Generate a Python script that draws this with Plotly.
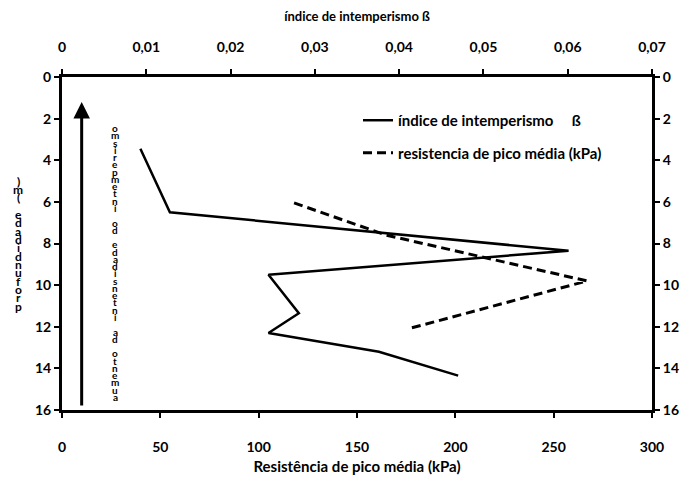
import plotly.graph_objects as go

# Weathering index (top axis) against depth
beta_index = [0.0093, 0.0128, 0.0601, 0.0245, 0.0281, 0.0245, 0.0376, 0.0470]
beta_depth = [3.45, 6.5, 8.35, 9.5, 11.35, 12.3, 13.2, 14.35]

# Mean peak strength (bottom axis) against depth
peak_strength = [118, 165, 267, 176]
strength_depth = [6.05, 7.6, 9.8, 12.1]

# Tick labels
strength_ticks = [0, 50, 100, 150, 200, 250, 300]
beta_tick_vals = [0, 0.01, 0.02, 0.03, 0.04, 0.05, 0.06, 0.07]
beta_tick_text = ["0", "0,01", "0,02", "0,03", "0,04", "0,05", "0,06", "0,07"]
depth_ticks = [0, 2, 4, 6, 8, 10, 12, 14, 16]

depth_title = "profundidade (m)"
arrow_label = "aumento da intensidade do intemperismo"

FONT = "Lato"
tick_font = dict(family=FONT, size=14, color="black", weight="bold")

fig = go.Figure()

fig.add_trace(go.Scatter(
    x=beta_index, y=beta_depth, xaxis="x2", yaxis="y2",
    mode="lines", line=dict(color="black", width=2.5),
    name="índice de intemperismo\u00a0\u00a0\u00a0\u00a0\u00a0ß",
    legendgroup="a",
))
fig.add_trace(go.Scatter(
    x=peak_strength, y=strength_depth, xaxis="x", yaxis="y",
    mode="lines", line=dict(color="black", width=3, dash="9px,5px"),
    name="resistencia de pico média (kPa)",
    legendgroup="b",
))

axis_common = dict(
    showgrid=False, zeroline=False, showline=True, linecolor="black",
    linewidth=3, ticks="outside", ticklen=5, tickwidth=2, tickcolor="black",
    tickfont=tick_font,
)

fig.update_layout(
    width=691, height=486,
    margin=dict(l=62, r=39, t=77, b=76),
    paper_bgcolor="white", plot_bgcolor="white",
    font=dict(family=FONT, color="black"),
    xaxis=dict(
        range=[0, 300], tickvals=strength_ticks, side="bottom", anchor="y",
        ticklabelstandoff=17,
        title=dict(text="Resistência de pico média (kPa)",
                   font=dict(family=FONT, size=15, weight="bold"), standoff=8),
        **axis_common,
    ),
    xaxis2=dict(
        range=[0, 0.07], tickvals=beta_tick_vals, ticktext=beta_tick_text,
        side="top", overlaying="x", anchor="y2", ticklabelstandoff=11,
        title=dict(text="índice de intemperismo ß",
                   font=dict(family=FONT, size=13, weight="bold"), standoff=14),
        **axis_common,
    ),
    yaxis=dict(range=[16, 0], tickvals=depth_ticks, side="left", anchor="x",
               **axis_common),
    yaxis2=dict(range=[16, 0], tickvals=depth_ticks, side="right",
                overlaying="y", anchor="x2", **axis_common),
    showlegend=True,
    legend=dict(
        x=0.5017, y=0.919, xanchor="left", yanchor="top",
        bgcolor="rgba(0,0,0,0)", borderwidth=0,
        font=dict(family=FONT, size=15, color="black", weight="bold"),
        tracegroupgap=10, traceorder="grouped",
    ),
)

# Upward arrow marking increasing weathering
fig.add_annotation(
    x=10, y=1.2, ax=10, ay=15.85, xref="x", yref="y", axref="x", ayref="y",
    showarrow=True, arrowhead=2, arrowsize=1.1, arrowwidth=3, arrowcolor="black",
    text="",
)

plot_left, plot_w = 62, 590
plot_top, plot_h = 77, 333


def px_to_paper(px, py):
    return (px - plot_left) / plot_w, 1 - (py - plot_top) / plot_h


def stack_chars(label, x_px, y_top, y_bottom, size):
    """Stack the characters of a label vertically, reading bottom to top."""
    chars = list(reversed(label))
    for i, ch in enumerate(chars):
        if ch == " ":
            continue
        py = y_top + (y_bottom - y_top) * i / (len(chars) - 1)
        xp, yp = px_to_paper(x_px, py)
        fig.add_annotation(x=xp, y=yp, xref="paper", yref="paper", text=ch,
                           showarrow=False,
                           font=dict(family=FONT, size=size, color="black",
                                     weight="bold"),
                           xanchor="center", yanchor="middle")


stack_chars(depth_title, 18, 181, 306, 12)
stack_chars(arrow_label, 115, 128, 397, 10)

fig.write_html("out.html")
